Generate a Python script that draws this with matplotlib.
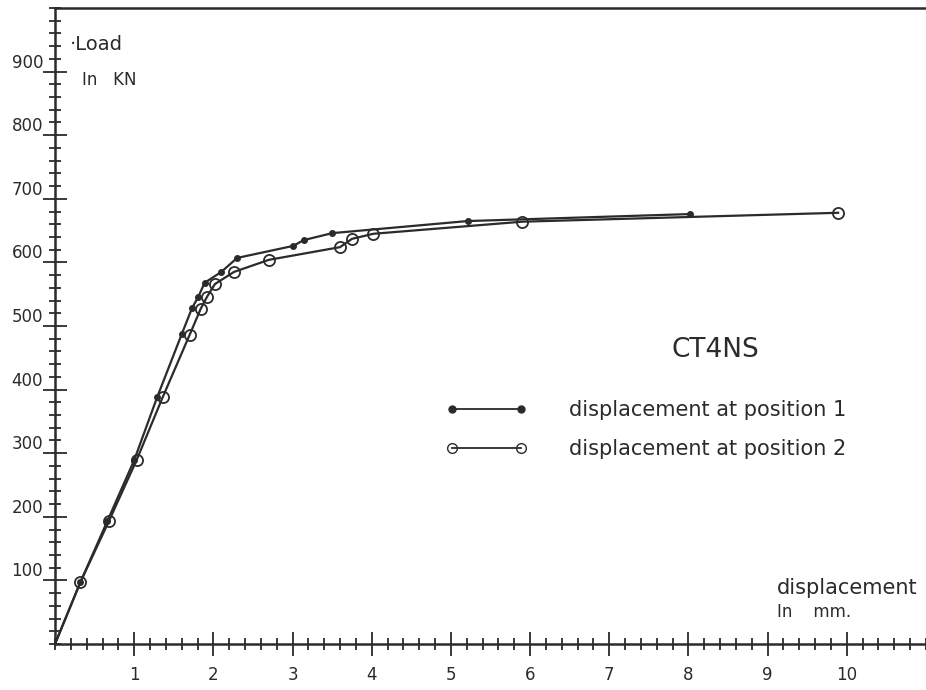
import matplotlib
matplotlib.use("Agg")
import matplotlib.pyplot as plt
from matplotlib.lines import Line2D
from matplotlib.ticker import MultipleLocator
from matplotlib.transforms import ScaledTranslation

# displacement (mm) and load (kN)
disp_pos1 = [0.0, 0.32, 0.66, 1.00, 1.29, 1.60, 1.73, 1.81, 1.89, 2.10, 2.30, 3.01, 3.14, 3.50, 5.21, 8.02]
load_pos1 = [0, 97, 193, 289, 388, 487, 528, 546, 568, 585, 607, 626, 635, 646, 665, 676]

disp_pos2 = [0.0, 0.32, 0.68, 1.03, 1.36, 1.70, 1.84, 1.92, 2.02, 2.26, 2.70, 3.60, 3.75, 4.02, 5.90, 9.89]
load_pos2 = [0, 97, 193, 289, 388, 486, 527, 546, 566, 585, 604, 624, 637, 645, 664, 678]

x_major = list(range(1, 11))
y_major = list(range(100, 1000, 100))

ink = "#2b2b2b"
plt.rcParams["font.family"] = ["DejaVu Sans"]

fig = plt.figure(figsize=(9.26, 6.9), dpi=100)
ax = fig.add_axes([55 / 926, 46 / 690, 871 / 926, 636 / 690])

ax.plot(disp_pos1, load_pos1, color=ink, lw=1.6, marker="o", ms=4,
        mfc=ink, mec=ink, markevery=list(range(1, len(disp_pos1))))
ax.plot(disp_pos2, load_pos2, color=ink, lw=1.6, marker="o", ms=8,
        mfc="none", mec=ink, mew=1.3, markevery=list(range(1, len(disp_pos2))))

ax.set_xlim(0, 11)
ax.set_ylim(0, 1000)

ax.xaxis.set_major_locator(MultipleLocator(1))
ax.xaxis.set_minor_locator(MultipleLocator(0.2))
ax.yaxis.set_major_locator(MultipleLocator(100))
ax.yaxis.set_minor_locator(MultipleLocator(20))
ax.set_xticks(x_major, [str(v) for v in x_major])
ax.set_yticks(y_major, [str(v) for v in y_major])

ax.tick_params(which="major", direction="inout", length=17, width=1.3, color=ink,
               labelcolor=ink, labelsize=12)
ax.tick_params(which="minor", direction="inout", length=9, width=1.3, color=ink)
ax.tick_params(axis="y", which="major", pad=0)
ax.tick_params(axis="x", which="major", pad=7)

# y labels sit a little above their long tick, as on the original plot
for lab in ax.get_yticklabels():
    lab.set_transform(lab.get_transform() + ScaledTranslation(0, 0.11, fig.dpi_scale_trans))

for side in ["left", "bottom", "top"]:
    ax.spines[side].set_color(ink)
    ax.spines[side].set_linewidth(1.8)
ax.spines["right"].set_visible(False)

ax.text(0.017, 0.942, "·Load", transform=ax.transAxes, fontsize=14, color=ink, va="center")
ax.text(0.031, 0.887, "In   KN", transform=ax.transAxes, fontsize=12, color=ink, va="center")
ax.text(0.758, 0.462, "CT4NS", transform=ax.transAxes, fontsize=19, color=ink,
        va="center", ha="center")
ax.text(0.829, 0.088, "displacement", transform=ax.transAxes, fontsize=15, color=ink, va="center")
ax.text(0.829, 0.050, "In    mm.", transform=ax.transAxes, fontsize=12, color=ink, va="center")

handles = [
    Line2D([], [], color=ink, lw=1.3, marker="o", ms=5, mfc=ink, mec=ink),
    Line2D([], [], color=ink, lw=1.3, marker="o", ms=7, mfc="none", mec=ink),
]
ax.legend(handles, ["displacement at position 1", "displacement at position 2"],
          loc="upper left", bbox_to_anchor=(0.449, 0.383), frameon=False, numpoints=2,
          fontsize=15, labelcolor=ink, handlelength=3.9, handletextpad=2.0,
          labelspacing=0.9, borderpad=0, borderaxespad=0)

fig.savefig("out.png", dpi=100, facecolor="white")
